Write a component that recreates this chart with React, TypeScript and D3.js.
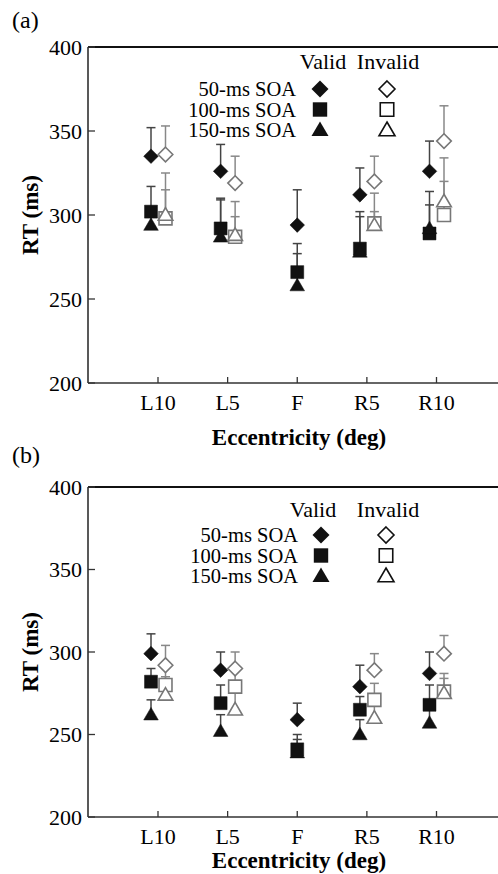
import React from "react";
import * as d3 from "d3";

const categories = ["L10", "L5", "F", "R5", "R10"];
const yTicks = [200, 250, 300, 350, 400];
const soaLabels = ["50-ms SOA", "100-ms SOA", "150-ms SOA"];

// panel (a): means and upper error bounds (ms), null = no condition
const a50Valid = [335, 326, 294, 312, 326];
const a50ValidTop = [352, 342, 315, 328, 344];
const a50Invalid = [336, 319, null, 320, 344];
const a50InvalidTop = [353, 335, null, 335, 365];
const a100Valid = [302, 292, 266, 280, 289];
const a100ValidTop = [317, 310, 283, 302, 314];
const a100Invalid = [298, 287, null, 295, 300];
const a100InvalidTop = [325, 308, null, 313, 320];
const a150Valid = [294, 287, 258, 278, 292];
const a150ValidTop = [302, 309, 277, 299, 306];
const a150Invalid = [300, 288, null, 294, 308];
const a150InvalidTop = [315, 299, null, 302, 334];

// panel (b)
const b50Valid = [299, 289, 259, 279, 287];
const b50ValidTop = [311, 300, 269, 292, 300];
const b50Invalid = [292, 290, null, 289, 299];
const b50InvalidTop = [304, 300, null, 299, 310];
const b100Valid = [282, 269, 241, 265, 268];
const b100ValidTop = [290, 280, 250, 273, 280];
const b100Invalid = [280, 279, null, 271, 276];
const b100InvalidTop = [291, 290, null, 281, 287];
const b150Valid = [262, 252, 239, 250, 257];
const b150ValidTop = [271, 262, 247, 259, 266];
const b150Invalid = [274, 265, null, 260, 275];
const b150InvalidTop = [285, 276, null, 270, 284];

type Shape = "diamond" | "square" | "triangle";
const shapes: Shape[] = ["diamond", "square", "triangle"];

const FONT = "'Liberation Serif', 'Times New Roman', serif";

function markerPath(shape: Shape, s: number) {
  const p = d3.path();
  if (shape === "diamond") {
    p.moveTo(0, -s);
    p.lineTo(s, 0);
    p.lineTo(0, s);
    p.lineTo(-s, 0);
  } else if (shape === "square") {
    const h = s * 0.9;
    p.rect(-h, -h, 2 * h, 2 * h);
  } else {
    p.moveTo(0, -s);
    p.lineTo(s, s * 0.72);
    p.lineTo(-s, s * 0.72);
  }
  p.closePath();
  return p.toString();
}

type Series = {
  shape: Shape;
  valid: boolean;
  values: (number | null)[];
  tops: (number | null)[];
};

type Legend = {
  validX: number;
  invalidX: number;
  headY: number;
  rows: number[];
  textX: number;
  mValid: number;
  mInvalid: number;
};

function Panel({
  label,
  labelY,
  top,
  bottom,
  titleY,
  series,
  legend,
}: {
  label: string;
  labelY: number;
  top: number;
  bottom: number;
  titleY: number;
  series: Series[];
  legend: Legend;
}) {
  const left = 88;
  const right = 498;
  const x = d3.scalePoint<string>().domain(categories).range([158, 436.5]);
  const y = d3.scaleLinear().domain([200, 400]).range([bottom, top]);

  // valid left, invalid right; fixation has valid only, centred
  const offset = (cat: string, valid: boolean) => {
    if (cat === "F") return 0;
    return valid ? -7 : 7.5;
  };

  const order = (s: Series) => (s.shape === "square" ? 0 : s.shape === "triangle" ? 1 : 2) + (s.valid ? 0 : 3);
  const sorted = [...series].sort((p, q) => order(p) - order(q));

  return (
    <g>
      <text x={12} y={labelY} fontFamily={FONT} fontSize={24}>
        {label}
      </text>
      {/* axes */}
      <line x1={left} x2={right} y1={top} y2={top} stroke="#111" strokeWidth={2} />
      <line x1={left} x2={left} y1={top} y2={bottom} stroke="#222" strokeWidth={1.5} />
      <line x1={left} x2={right} y1={bottom} y2={bottom} stroke="#333" strokeWidth={1.5} />
      {yTicks.map((t) => (
        <g key={t}>
          <line x1={left} x2={left + 7} y1={y(t)} y2={y(t)} stroke="#333" strokeWidth={1.3} />
          <text x={82} y={y(t)} dy="0.35em" textAnchor="end" fontFamily={FONT} fontSize={22}>
            {t}
          </text>
        </g>
      ))}
      {categories.map((c) => (
        <g key={c}>
          <line x1={x(c)} x2={x(c)} y1={bottom} y2={bottom - 6} stroke="#333" strokeWidth={1.3} />
          <text x={x(c)} y={bottom + 27} textAnchor="middle" fontFamily={FONT} fontSize={22}>
            {c}
          </text>
        </g>
      ))}
      <text x={299} y={titleY} textAnchor="middle" fontFamily={FONT} fontSize={23} fontWeight="bold">
        Eccentricity (deg)
      </text>
      <text
        transform={`translate(30,${(top + bottom) / 2}) rotate(-90)`}
        textAnchor="middle"
        dy="0.35em"
        fontFamily={FONT}
        fontSize={23}
        fontWeight="bold"
      >
        RT (ms)
      </text>

      {/* legend */}
      <text x={legend.validX} y={legend.headY} textAnchor="middle" fontFamily={FONT} fontSize={22}>
        Valid
      </text>
      <text x={legend.invalidX} y={legend.headY} textAnchor="middle" fontFamily={FONT} fontSize={22}>
        Invalid
      </text>
      {soaLabels.map((s, i) => (
        <g key={s}>
          <text x={legend.textX} y={legend.rows[i]} dy="0.35em" textAnchor="end" fontFamily={FONT} fontSize={20.5}>
            {s}
          </text>
          <path
            d={markerPath(shapes[i], shapes[i] === "square" ? 8 : 8.5)}
            transform={`translate(${legend.mValid},${legend.rows[i]})`}
            fill="#111"
          />
          <path
            d={markerPath(shapes[i], shapes[i] === "square" ? 7.5 : 8)}
            transform={`translate(${legend.mInvalid},${legend.rows[i]})`}
            fill="#fff"
            stroke="#111"
            strokeWidth={1.6}
          />
        </g>
      ))}

      {/* error bars (upper only) */}
      {series.map((s, si) =>
        categories.map((c, i) => {
          const v = s.values[i];
          const t = s.tops[i];
          if (v == null || t == null) return null;
          const cx = (x(c) as number) + offset(c, s.valid);
          const col = s.valid ? "#444" : "#888";
          return (
            <g key={`e${si}-${c}`}>
              <line x1={cx} x2={cx} y1={y(v)} y2={y(t)} stroke={col} strokeWidth={1.5} />
              <line x1={cx - 4.5} x2={cx + 4.5} y1={y(t)} y2={y(t)} stroke={col} strokeWidth={1.5} />
            </g>
          );
        })
      )}

      {/* markers */}
      {sorted.map((s, si) =>
        categories.map((c, i) => {
          const v = s.values[i];
          if (v == null) return null;
          const cx = (x(c) as number) + offset(c, s.valid);
          const size = s.shape === "square" ? 7.2 : 7.3;
          return (
            <path
              key={`m${si}-${c}`}
              d={markerPath(s.shape, size)}
              transform={`translate(${cx},${y(v)})`}
              fill={s.valid ? "#111" : "#fff"}
              stroke={s.valid ? "#111" : "#777"}
              strokeWidth={s.valid ? 0.5 : 1.6}
            />
          );
        })
      )}
    </g>
  );
}

export default function App() {
  const seriesA: Series[] = [
    { shape: "diamond", valid: true, values: a50Valid, tops: a50ValidTop },
    { shape: "diamond", valid: false, values: a50Invalid, tops: a50InvalidTop },
    { shape: "square", valid: true, values: a100Valid, tops: a100ValidTop },
    { shape: "square", valid: false, values: a100Invalid, tops: a100InvalidTop },
    { shape: "triangle", valid: true, values: a150Valid, tops: a150ValidTop },
    { shape: "triangle", valid: false, values: a150Invalid, tops: a150InvalidTop },
  ];
  const seriesB: Series[] = [
    { shape: "diamond", valid: true, values: b50Valid, tops: b50ValidTop },
    { shape: "diamond", valid: false, values: b50Invalid, tops: b50InvalidTop },
    { shape: "square", valid: true, values: b100Valid, tops: b100ValidTop },
    { shape: "square", valid: false, values: b100Invalid, tops: b100InvalidTop },
    { shape: "triangle", valid: true, values: b150Valid, tops: b150ValidTop },
    { shape: "triangle", valid: false, values: b150Invalid, tops: b150InvalidTop },
  ];

  return (
    <div style={{ position: "absolute", left: 0, top: 0 }}>
      <svg width={498} height={874} style={{ display: "block", background: "#fff" }}>
        <Panel
          label="(a)"
          labelY={28}
          top={47}
          bottom={383}
          titleY={445}
          series={seriesA}
          legend={{ validX: 323, invalidX: 388, headY: 69, rows: [89, 109.5, 130], textX: 296, mValid: 320, mInvalid: 387 }}
        />
        <Panel
          label="(b)"
          labelY={463}
          top={487}
          bottom={817}
          titleY={868}
          series={seriesB}
          legend={{ validX: 313, invalidX: 388, headY: 517, rows: [535, 555.5, 576], textX: 298, mValid: 321, mInvalid: 386 }}
        />
      </svg>
    </div>
  );
}
